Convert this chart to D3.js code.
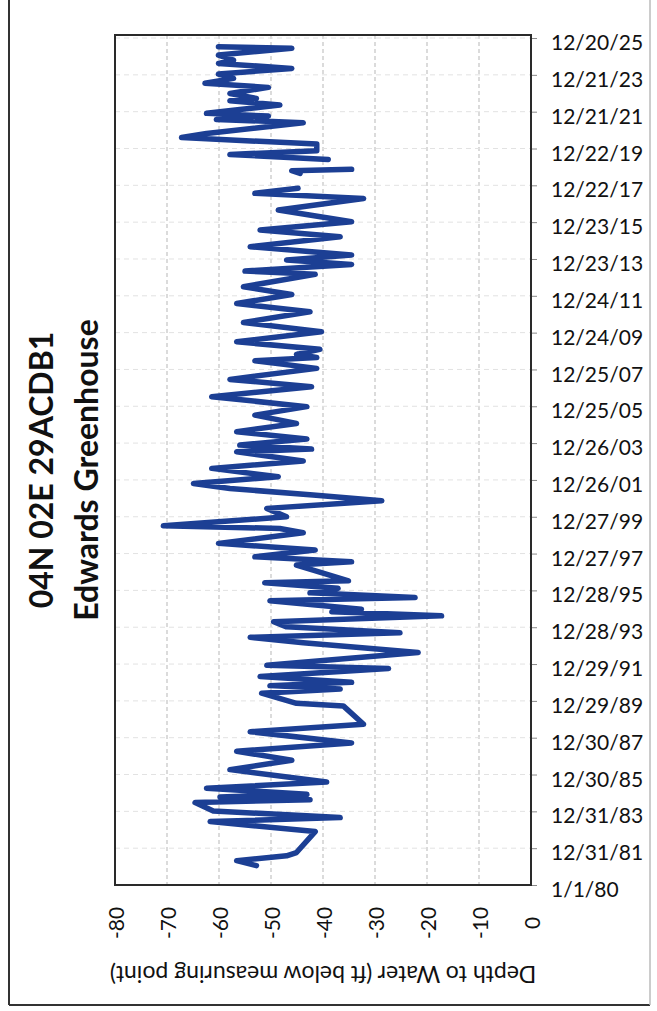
<!DOCTYPE html>
<html>
<head>
<meta charset="utf-8">
<script src="https://cdn.jsdelivr.net/npm/d3@7"></script>
<style>
  html, body { margin: 0; padding: 0; background: #fff; }
  svg { display: block; }
  text { font-family: Lato, "Open Sans", sans-serif; fill: #111; }
</style>
</head>
<body>
<div id="chart"></div>
<script>
var width = 657;
var height = 1011;

// title lines (drawn rotated, reading bottom to top)
var titleLines = ["04N 02E 29ACDB1", "Edwards Greenhouse"];
var axisTitle = "Depth to Water (ft below measuring point)";

// value axis ticks (ft)
var depthTicks = [-80, -70, -60, -50, -40, -30, -20, -10, 0];

// date axis tick labels, every 730 days
var dateTicks = ["1/1/80", "12/31/81", "12/31/83", "12/30/85", "12/30/87", "12/29/89",
  "12/29/91", "12/28/93", "12/28/95", "12/27/97", "12/27/99", "12/26/01", "12/26/03",
  "12/25/05", "12/25/07", "12/24/09", "12/24/11", "12/23/13", "12/23/15", "12/22/17",
  "12/22/19", "12/21/21", "12/21/23", "12/20/25"];

// measurement time (decimal year) and depth to water (ft); null = gap in record
var years = [1981.05, 1981.32, 1981.58, 1981.76, 1982.90, 1983.44, 1983.66, 1984.02, 1984.47, 1984.63,
  1984.78, 1984.92, 1985.25, 1985.59, 1986.26, 1986.77, 1987.26, 1987.71, 1988.32, 1988.72,
  1989.72, 1989.86, 1990.41, 1990.64, 1990.82, 1991.00, 1991.31, 1991.75, 1991.93, 1992.62,
  1993.15, 1993.44, 1993.69, 1994.01, 1994.29, 1994.61, 1994.83, 1994.97, 1995.43, 1995.61,
  1995.86, 1996.10, 1996.40, 1996.51, 1997.09, 1997.36, 1997.54, 1997.81, 1998.18, 1998.54,
  1999.12, 1999.35, 1999.50, 1999.98, 2000.44, 2000.85, 2001.16, 2001.52, 2001.79, 2002.16,
  2002.61, 2003.01, 2003.51, 2003.66, 2003.88, 2004.20, 2004.60, 2005.05, 2005.50, 2005.96,
  2006.50, 2007.04, 2007.44, 2008.04, 2008.45, 2008.63, 2008.80, 2009.07, 2009.48, 2010.03,
  2010.53, 2011.11, 2011.56, 2012.05, 2012.47, 2013.14, 2013.32, 2013.68, 2013.92, 2014.19,
  2014.64, 2015.18, 2015.55, 2016.00, 2016.63, 2017.26, 2017.54, 2017.81, 2018.20, 2018.62,
  2018.77, 2018.84, 2019.10, 2019.38, 2019.65, 2019.85, 2020.21, 2020.57, 2020.79, 2021.37,
  2021.55, 2021.73, 2021.88, 2022.09, 2022.33, 2022.56, 2022.69, 2022.96, 2023.29, 2023.51,
  2023.78, 2024.01, 2024.32, 2024.59, 2024.77, 2025.04, 2025.41, 2025.50];

var depth = [-52.8, -56.6, -47.0, -45.1, -41.5, -61.7, -36.7, -61.1, -64.6, -42.5,
  -59.8, -43.1, -62.4, -39.3, -57.9, -46.0, -56.6, -34.5, -54.0, -32.2,
  -36.1, -45.1, -51.8, -36.7, -50.2, -34.5, -52.1, -27.4, -50.8, -21.7,
  -43.8, -54.0, -25.2, -47.0, -49.5, -17.2, -38.3, -32.6, -50.2, -22.3,
  -42.5, -37.1, -51.2, -35.1, -41.9, -45.1, -34.5, -53.1, -41.5, -60.1,
  -43.8, -48.3, -70.7, -47.0, -50.8, -28.7, -41.9, -57.9, -64.9, -48.6,
  -61.4, -43.8, -56.6, -42.2, -56.0, -43.1, -56.6, -45.1, -53.1, -43.1,
  -61.4, -42.2, -57.9, -41.2, -53.1, -41.2, -45.1, -40.6, -56.6, -40.3,
  -55.3, -42.5, -56.6, -46.0, -55.3, -41.5, -55.0, -34.5, -47.0, -34.5,
  -54.0, -36.7, -52.1, -34.5, -48.6, -32.2, -53.1, -44.8, null, -44.4,
  -46.0, -34.5, null, -39.0, -57.9, -41.2, -41.2, -67.2, -62.4, -43.8,
  -60.5, -50.5, -62.4, -56.0, -48.3, -57.9, -52.8, -57.9, -50.5, -62.7,
  -57.2, -60.1, -46.0, -60.1, -57.2, -60.1, -46.0, -60.1];

function yearToDate(y) {
  var yr = Math.floor(y);
  var start = new Date(yr, 0, 1), end = new Date(yr + 1, 0, 1);
  return new Date(+start + (y - yr) * (end - start));
}

var parseTick = d3.timeParse("%m/%d/%y");
var tickDates = dateTicks.map(parseTick);

var data = years.map(function(y, i) { return { date: yearToDate(y), v: depth[i] }; });

// plot box
var plot = { left: 115, right: 531, top: 35, bottom: 885 };

var x = d3.scaleLinear()
  .domain([depthTicks[0], depthTicks[depthTicks.length - 1]])
  .range([plot.left, plot.right]);

// axis max sits a little above the last labelled tick
var y = d3.scaleTime()
  .domain([tickDates[0], d3.timeDay.offset(tickDates[tickDates.length - 1], 60)])
  .range([plot.bottom, plot.top]);

var svg = d3.select("#chart").append("svg")
  .attr("width", width)
  .attr("height", height);

svg.append("rect")
  .attr("width", width).attr("height", height)
  .attr("fill", "#fff");

// outer chart border (left + bottom dark, right faint)
svg.append("line")
  .attr("x1", 9).attr("x2", 9).attr("y1", 0).attr("y2", 1005)
  .attr("stroke", "#333").attr("stroke-width", 2);
svg.append("line")
  .attr("x1", 9).attr("x2", 650).attr("y1", 1005).attr("y2", 1005)
  .attr("stroke", "#333").attr("stroke-width", 2);
svg.append("line")
  .attr("x1", 650).attr("x2", 650).attr("y1", 0).attr("y2", 1005)
  .attr("stroke", "#bbb").attr("stroke-width", 1.5);

// gridlines
var grid = svg.append("g");
grid.selectAll(".vgrid")
  .data(depthTicks.slice(1, -1))
  .enter().append("line")
  .attr("class", "vgrid")
  .attr("x1", d => x(d)).attr("x2", d => x(d))
  .attr("y1", plot.top).attr("y2", plot.bottom)
  .attr("stroke", "#c4c4c4")
  .attr("stroke-width", 1.2)
  .attr("stroke-dasharray", "4,3");

grid.selectAll(".hgrid")
  .data(tickDates.slice(1))
  .enter().append("line")
  .attr("class", "hgrid")
  .attr("x1", plot.left).attr("x2", plot.right)
  .attr("y1", d => y(d)).attr("y2", d => y(d))
  .attr("stroke", "#e2e2e2")
  .attr("stroke-width", 1)
  .attr("stroke-dasharray", "5,4");

// date axis on the right
var yAxis = svg.append("g")
  .attr("transform", "translate(" + plot.right + ",0)")
  .call(d3.axisRight(y).tickValues(tickDates).tickSize(6).tickPadding(14)
    .tickFormat(d3.timeFormat("%-m/%-d/%y")));
yAxis.select(".domain").remove();
yAxis.selectAll(".tick line").attr("stroke", "#888");
yAxis.selectAll(".tick text")
  .attr("dy", "0.55em")
  .style("font-size", "21px")
  .style("font-family", "Lato, sans-serif")
  .attr("fill", "#111");

// depth axis labels, rotated
svg.append("g").selectAll("text")
  .data(depthTicks)
  .enter().append("text")
  .attr("transform", d => "translate(" + x(d) + ",923) rotate(-90)")
  .attr("text-anchor", "middle")
  .attr("dominant-baseline", "central")
  .style("font-size", "21px")
  .text(d => d);

// plot frame
svg.append("rect")
  .attr("x", plot.left).attr("y", plot.top)
  .attr("width", plot.right - plot.left)
  .attr("height", plot.bottom - plot.top)
  .attr("fill", "none")
  .attr("stroke", "#2a2a2a")
  .attr("stroke-width", 2);

// series
var line = d3.line()
  .defined(d => d.v != null)
  .x(d => x(d.v))
  .y(d => y(d.date));

svg.append("path")
  .datum(data)
  .attr("d", line)
  .attr("fill", "none")
  .attr("stroke", "#1c3f94")
  .attr("stroke-width", 5.5)
  .attr("stroke-linejoin", "round")
  .attr("stroke-linecap", "round");

// titles
svg.append("g").selectAll("text")
  .data(titleLines)
  .enter().append("text")
  .attr("transform", (d, i) => "translate(" + (40 + i * 45) + ",470) rotate(-90)")
  .attr("text-anchor", "middle")
  .attr("dominant-baseline", "central")
  .style("font-size", "32px")
  .style("font-weight", "bold")
  .text(d => d);

svg.append("text")
  .attr("transform", "translate(" + ((plot.left + plot.right) / 2) + ",975) rotate(180)")
  .attr("text-anchor", "middle")
  .attr("dominant-baseline", "central")
  .style("font-size", "23px")
  .text(axisTitle);
</script>
</body>
</html>
